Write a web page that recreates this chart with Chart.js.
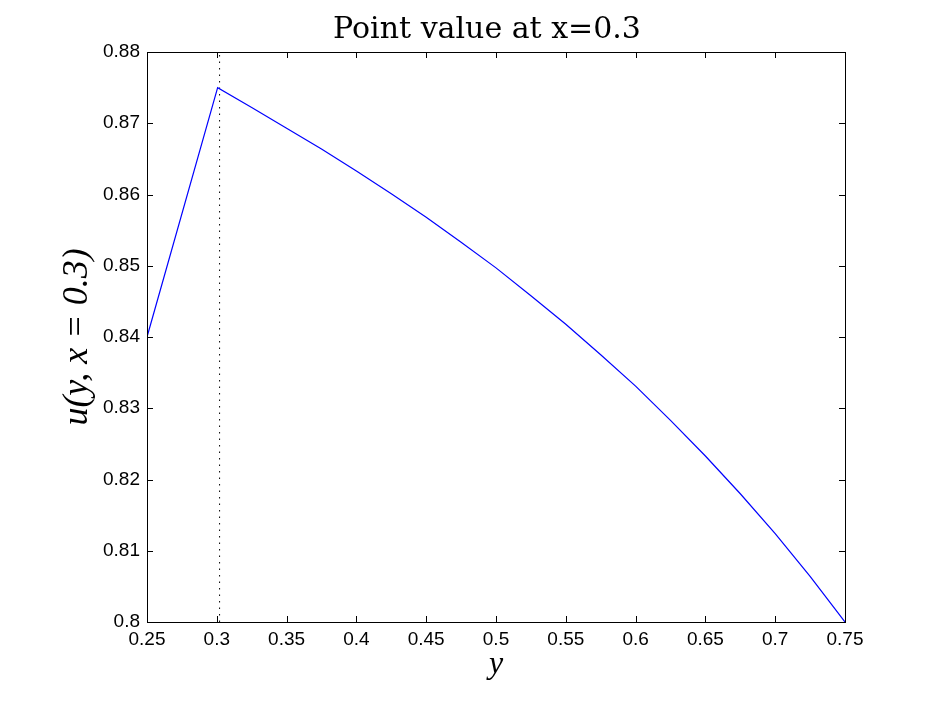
<!DOCTYPE html>
<html>
<head>
<meta charset="utf-8">
<script src="https://cdn.jsdelivr.net/npm/chart.js@4"></script>
<style>
  body { margin: 0; background: #fff; }
  canvas { display: block; }
</style>
</head>
<body>
<canvas id="pointChart" width="934" height="703"></canvas>
<script>
var yPos = [0.25, 0.3006, 0.325, 0.35, 0.375, 0.4, 0.425, 0.45, 0.475, 0.5, 0.525, 0.55, 0.575, 0.6, 0.625, 0.65, 0.675, 0.7, 0.725, 0.75];
var uVal = [0.84, 0.875, 0.8722, 0.8693, 0.8664, 0.8633, 0.8601, 0.8568, 0.8533, 0.8497, 0.8458, 0.8418, 0.8375, 0.8331, 0.8283, 0.8233, 0.8180, 0.8124, 0.8064, 0.80];
var markerX = [0.302, 0.302];
var markerY = [0.80, 0.88];
var xTicks = [0.25, 0.3, 0.35, 0.4, 0.45, 0.5, 0.55, 0.6, 0.65, 0.7, 0.75];
var yTicks = [0.8, 0.81, 0.82, 0.83, 0.84, 0.85, 0.86, 0.87, 0.88];
var xTickLabels = ['0.25', '0.3', '0.35', '0.4', '0.45', '0.5', '0.55', '0.6', '0.65', '0.7', '0.75'];
var yTickLabels = ['0.8', '0.81', '0.82', '0.83', '0.84', '0.85', '0.86', '0.87', '0.88'];

// matlab style box with inward ticks
var boxPlugin = {
    id: 'box',
    afterDatasetsDraw: function(chart) {
        var ctx = chart.ctx, a = chart.chartArea, len = 6;
        var xs = chart.scales.x, ys = chart.scales.y;
        ctx.save();
        ctx.strokeStyle = '#000';
        ctx.lineWidth = 1;
        ctx.strokeRect(Math.round(a.left) + 0.5, Math.round(a.top) + 0.5,
            Math.round(a.right - a.left), Math.round(a.bottom - a.top));
        ctx.beginPath();
        xs.ticks.forEach(function(t) {
            var px = Math.round(xs.getPixelForValue(t.value)) + 0.5;
            ctx.moveTo(px, a.bottom); ctx.lineTo(px, a.bottom - len);
            ctx.moveTo(px, a.top); ctx.lineTo(px, a.top + len);
        });
        ys.ticks.forEach(function(t) {
            var py = Math.round(ys.getPixelForValue(t.value)) + 0.5;
            ctx.moveTo(a.left, py); ctx.lineTo(a.left + len, py);
            ctx.moveTo(a.right, py); ctx.lineTo(a.right - len, py);
        });
        ctx.stroke();
        ctx.restore();
    }
};

var tickFont = { family: 'Liberation Sans, Arial, sans-serif', size: 19 };

new Chart(document.getElementById('pointChart').getContext('2d'), {
    type: 'scatter',
    data: {
        datasets: [{
            data: yPos.map(function(v, i) { return { x: v, y: uVal[i] }; }),
            showLine: true,
            borderColor: '#0000ff',
            borderWidth: 1.2,
            pointRadius: 0,
            tension: 0
        }, {
            data: markerX.map(function(v, i) { return { x: v, y: markerY[i] }; }),
            showLine: true,
            borderColor: '#000',
            borderWidth: 1,
            borderDash: [1.5, 5],
            pointRadius: 0
        }]
    },
    options: {
        responsive: false,
        animation: false,
        layout: { padding: { left: 40, right: 0, top: 0, bottom: 0 } },
        plugins: {
            legend: { display: false },
            tooltip: { enabled: false },
            title: {
                display: true,
                text: 'Point value at x=0.3',
                color: '#000',
                font: { family: 'DejaVu Serif, serif', size: 30, weight: 'normal' },
                padding: { top: 12, bottom: 4 }
            }
        },
        scales: {
            x: {
                type: 'linear',
                min: 0.25, max: 0.75,
                afterBuildTicks: function(s) { s.ticks = xTicks.map(function(v) { return { value: v }; }); },
                afterFit: function(s) { s.height = 81; },
                grid: { display: false, drawTicks: false },
                border: { display: false },
                ticks: {
                    autoSkip: false, maxRotation: 0, padding: 6, color: '#000', font: tickFont,
                    callback: function(v) { return xTickLabels[xTicks.indexOf(+v.toFixed(2))]; }
                },
                title: {
                    display: true, text: 'y', color: '#000',
                    font: { family: 'Liberation Serif, serif', size: 32, style: 'italic' },
                    padding: { top: 0, bottom: 19 }
                }
            },
            y: {
                type: 'linear',
                min: 0.8, max: 0.88,
                afterBuildTicks: function(s) { s.ticks = yTicks.map(function(v) { return { value: v }; }); },
                afterFit: function(s) { s.width = 107; },
                grid: { display: false, drawTicks: false },
                border: { display: false },
                ticks: {
                    padding: 7, color: '#000', font: tickFont,
                    callback: function(v) { return yTickLabels[yTicks.indexOf(+v.toFixed(2))]; }
                },
                title: {
                    display: true, text: 'u(y, x = 0.3)', color: '#000',
                    font: { family: 'Liberation Serif, serif', size: 36, style: 'italic' },
                    padding: { top: 16, bottom: 0 }
                }
            },
            yRight: {
                type: 'linear',
                position: 'right',
                min: 0, max: 1,
                afterFit: function(s) { s.width = 89; },
                grid: { display: false, drawTicks: false },
                border: { display: false },
                ticks: { display: false }
            }
        }
    },
    plugins: [boxPlugin]
});
</script>
</body>
</html>
